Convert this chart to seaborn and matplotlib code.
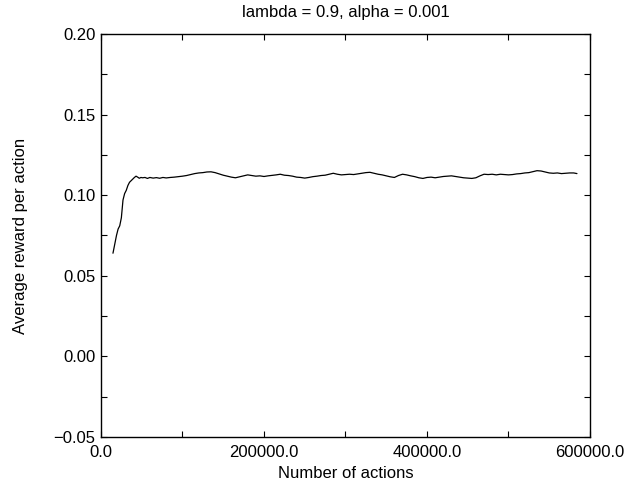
import numpy as np
import pandas as pd
import matplotlib
matplotlib.use("Agg")
import matplotlib.pyplot as plt
from matplotlib.ticker import MultipleLocator, FuncFormatter
import seaborn as sns

sns.set_style("ticks")
plt.rcParams['font.family'] = ['Liberation Sans', 'DejaVu Sans']
plt.rcParams['text.color'] = 'black'
plt.rcParams['axes.labelcolor'] = 'black'

# --- data (actions in thousands) ---
actions_k = [14.7, 17, 19, 21, 23, 25, 27, 29, 31, 33, 35, 37, 39, 41, 43, 45, 47, 49,
             51, 54, 57, 60, 64, 68, 72, 76, 80, 85, 90, 95, 100, 105, 110, 115, 120,
             125, 130, 135, 140, 145, 150, 155, 160, 165, 170, 175, 180, 185, 190, 195,
             200, 205, 210, 215, 220, 225, 230, 235, 240, 245, 250, 255, 260, 265, 270,
             275, 280, 285, 290, 295, 300, 305, 310, 315, 320, 325, 330, 335, 340, 345,
             350, 355, 360, 365, 370, 375, 380, 385, 390, 395, 400, 405, 410, 415, 420,
             425, 430, 435, 440, 445, 450, 455, 460, 465, 470, 475, 480, 485, 490, 495,
             500, 505, 510, 515, 520, 525, 530, 535, 540, 545, 550, 555, 560, 565, 570,
             575, 580, 584]
reward = [0.0640, 0.0700, 0.0750, 0.0790, 0.0810, 0.0860, 0.0970, 0.1010, 0.1030, 0.1060,
          0.1080, 0.1090, 0.1100, 0.1110, 0.1118, 0.1112, 0.1105, 0.1110, 0.1108, 0.1110,
          0.1104, 0.1110, 0.1106, 0.1109, 0.1105, 0.1110, 0.1107, 0.1110, 0.1112, 0.1115,
          0.1118, 0.1122, 0.1128, 0.1134, 0.1138, 0.1140, 0.1144, 0.1145, 0.1140, 0.1132,
          0.1124, 0.1118, 0.1112, 0.1108, 0.1114, 0.1120, 0.1126, 0.1122, 0.1118, 0.1120,
          0.1116, 0.1120, 0.1123, 0.1126, 0.1130, 0.1124, 0.1122, 0.1118, 0.1112, 0.1110,
          0.1106, 0.1110, 0.1115, 0.1118, 0.1122, 0.1124, 0.1130, 0.1136, 0.1130, 0.1126,
          0.1128, 0.1130, 0.1128, 0.1132, 0.1136, 0.1140, 0.1142, 0.1136, 0.1130, 0.1126,
          0.1120, 0.1114, 0.1110, 0.1122, 0.1130, 0.1126, 0.1120, 0.1115, 0.1108, 0.1104,
          0.1110, 0.1112, 0.1108, 0.1112, 0.1116, 0.1118, 0.1120, 0.1116, 0.1112, 0.1108,
          0.1106, 0.1104, 0.1108, 0.1120, 0.1130, 0.1128, 0.1130, 0.1126, 0.1130, 0.1128,
          0.1126, 0.1128, 0.1132, 0.1134, 0.1138, 0.1140, 0.1146, 0.1152, 0.1150, 0.1144,
          0.1138, 0.1136, 0.1138, 0.1134, 0.1136, 0.1138, 0.1138, 0.1134]

df = pd.DataFrame({"actions": np.array(actions_k) * 1000, "reward": reward})

fig = plt.figure(figsize=(6.42, 4.87), dpi=100)
ax = fig.add_axes([0.1573, 0.1027, 0.7617, 0.8275])

sns.lineplot(data=df, x="actions", y="reward", color="black", linewidth=0.9, ax=ax)

ax.set_xlim(0, 600000)
ax.set_ylim(-0.05, 0.20)
ax.xaxis.set_major_locator(MultipleLocator(200000))
ax.xaxis.set_minor_locator(MultipleLocator(100000))
ax.yaxis.set_major_locator(MultipleLocator(0.05))
ax.yaxis.set_minor_locator(MultipleLocator(0.025))
ax.xaxis.set_major_formatter(FuncFormatter(lambda v, p: f"{v:.1f}"))
ax.yaxis.set_major_formatter(FuncFormatter(lambda v, p: f"{v:.2f}".replace("-", "\u2212")))

ax.tick_params(which="both", direction="in", top=True, right=True, labelsize=12,
               colors="black")
ax.tick_params(which="both", length=4.3, width=0.8)
ax.tick_params(axis="x", which="both", pad=6)
ax.tick_params(axis="y", which="both", pad=4)
for s in ax.spines.values():
    s.set_linewidth(1.0)
    s.set_color("black")

ax.set_title("lambda = 0.9, alpha = 0.001", fontsize=12, pad=12)
ax.set_xlabel("Number of actions", fontsize=12, labelpad=4)
ax.set_ylabel("Average reward per action", fontsize=12, labelpad=18)

fig.savefig("out.png", dpi=100)
